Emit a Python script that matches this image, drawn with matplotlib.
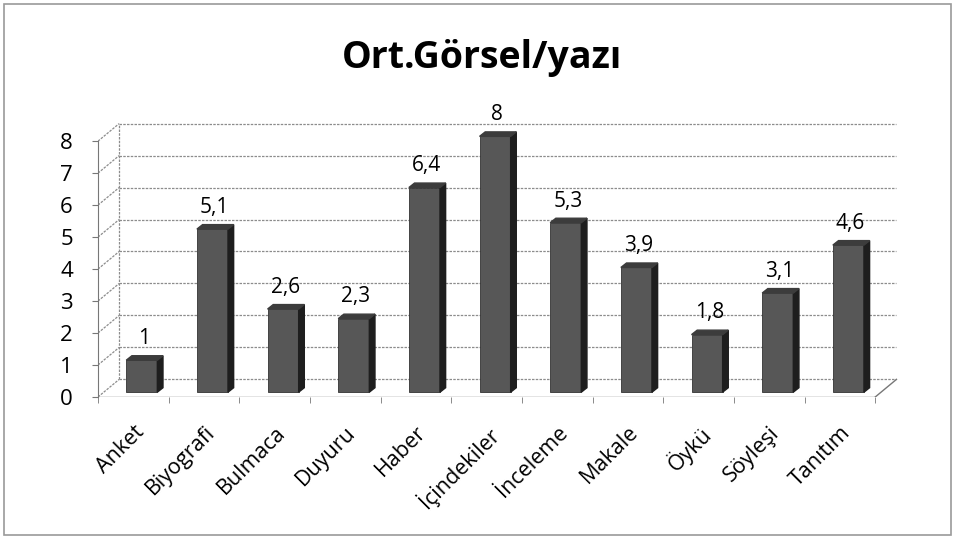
import matplotlib.pyplot as plt
from matplotlib.patches import Rectangle

plt.rcParams['font.family'] = ['Open Sans', 'DejaVu Sans']

# categories and average number of visuals per text
CATEGORIES = ['Anket', 'Biyografi', 'Bulmaca', 'Duyuru', 'Haber', 'İçindekiler',
              'İnceleme', 'Makale', 'Öykü', 'Söyleşi', 'Tanıtım']
VALUES = [1, 5.1, 2.6, 2.3, 6.4, 8, 5.3, 3.9, 1.8, 3.1, 4.6]
Y_TICKS = [0, 1, 2, 3, 4, 5, 6, 7, 8]

# fake 3d depth (data units)
WALL_DX, WALL_DY = 0.30, 0.55
BAR_DX, BAR_DY = 0.12, 0.15
SIDE_DX, SIDE_DY = 0.08, 0.14
BAR_W = 0.44

fig = plt.figure(figsize=(9.55, 5.39), dpi=100)
fig.patches.append(Rectangle((0.004, 0.007), 0.992, 0.986, transform=fig.transFigure,
                             fill=False, edgecolor='#9a9a9a', lw=1.2))
fig.text(0.505, 0.892, 'Ort.Görsel/yazı', ha='center', va='center',
         fontsize=27, fontweight='bold')

ax = fig.add_axes([0.1026, 0.2635, 0.8398, 0.5102])
n = len(CATEGORIES)
ax.set_xlim(-0.5, n - 0.5 + 0.35)
ax.set_ylim(0, 8.6)
for s in ['top', 'right', 'bottom']:
    ax.spines[s].set_visible(False)
ax.spines['left'].set_bounds(0, max(Y_TICKS))
ax.spines['left'].set_color('#777777')

grid_kw = dict(color='#8c8c8c', lw=0.9, ls=(0, (2, 1)), zorder=1)
x0, x1 = -0.5, n - 0.5
for v in Y_TICKS:
    # back wall gridline + diagonal to the front axis
    ax.plot([x0 + WALL_DX, x1 + WALL_DX], [v + WALL_DY, v + WALL_DY], **grid_kw)
    ax.plot([x0, x0 + WALL_DX], [v, v + WALL_DY], **grid_kw)
ax.plot([x0 + WALL_DX, x0 + WALL_DX], [WALL_DY, max(Y_TICKS) + WALL_DY], **grid_kw)
# floor edges
ax.plot([x0, x1], [0, 0], color='#777777', lw=1, zorder=1)
ax.plot([x1, x1 + WALL_DX], [0, WALL_DY], color='#777777', lw=1, zorder=1)

ax.set_yticks(Y_TICKS)
ax.tick_params(axis='y', length=4, color='#777777', pad=14, labelsize=16)

ax.set_xticks(range(n))
ax.set_xticklabels(CATEGORIES, rotation=45, ha='right', rotation_mode='anchor', fontsize=15.5)
ax.tick_params(axis='x', length=0, pad=18)
ax.set_xticks([i - 0.5 for i in range(n + 1)], minor=True)
ax.tick_params(axis='x', which='minor', length=4, color='#777777')

xs = [i + BAR_DX for i in range(n)]
ax.bar(xs, VALUES, width=BAR_W, bottom=BAR_DY, color='#575757', edgecolor='#333333',
       lw=0.6, zorder=3)
for x, v in zip(xs, VALUES):
    r = x + BAR_W / 2
    l = x - BAR_W / 2
    top = v + BAR_DY
    ax.fill([r, r + SIDE_DX, r + SIDE_DX, r], [BAR_DY, BAR_DY + SIDE_DY, top + SIDE_DY, top],
            color='#1e1e1e', zorder=3)
    ax.fill([l, l + SIDE_DX, r + SIDE_DX, r], [top, top + SIDE_DY, top + SIDE_DY, top],
            color='#3c3c3c', zorder=3)
    ax.text(x + 0.03, top + 0.35, f'{v:g}'.replace('.', ','), ha='center', va='bottom', fontsize=15)

fig.savefig('out.png', dpi=100)
